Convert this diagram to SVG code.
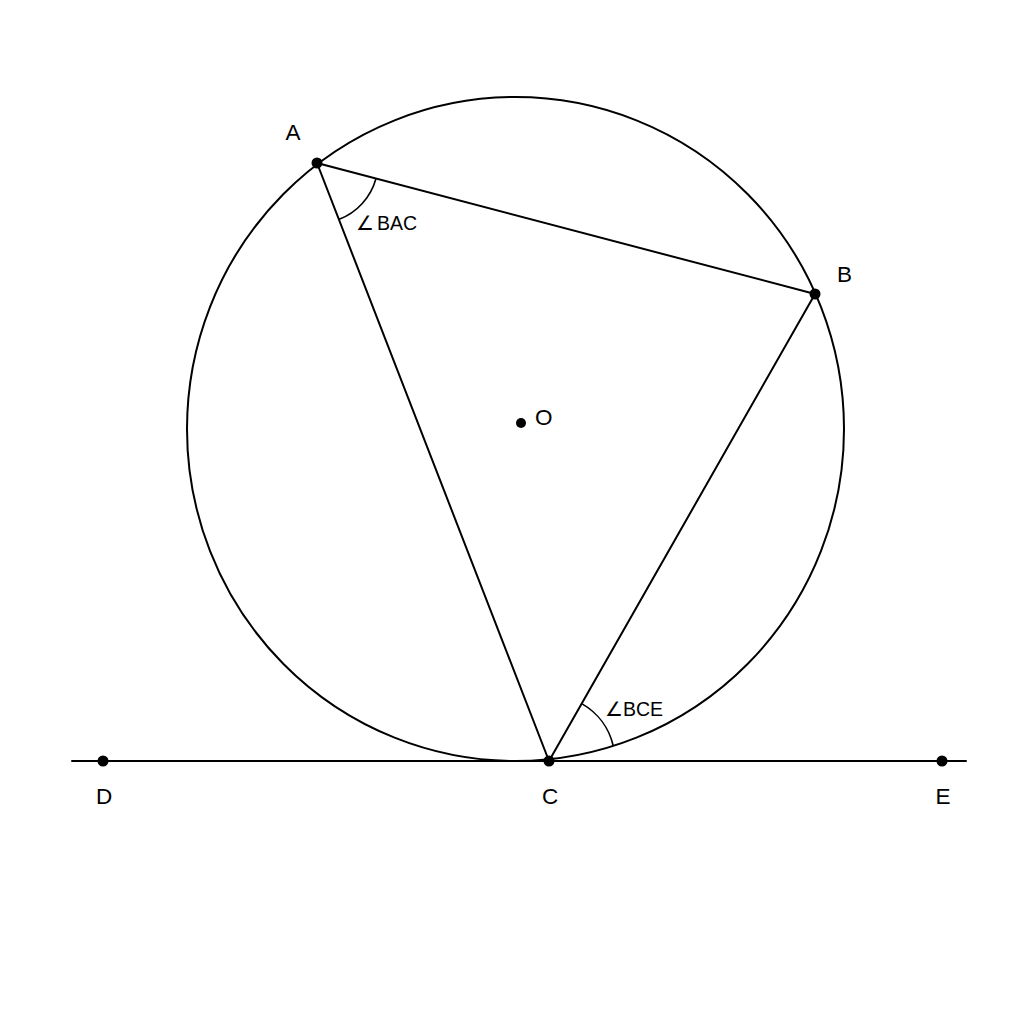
<svg xmlns="http://www.w3.org/2000/svg" width="1024" height="1024" viewBox="0 0 1024 1024">
<style>
.ln{fill:none;stroke:#000;stroke-width:2;stroke-linecap:round}
.thin{fill:none;stroke:#000;stroke-width:1.6}
.pt{fill:#000}
.lb{font-family:"Liberation Sans",Arial,sans-serif;font-size:22.5px;fill:#000}
.al{font-family:"Liberation Sans",Arial,sans-serif;font-size:19.5px;fill:#000}
</style>
<rect width="1024" height="1024" fill="#fff"/>
<g id="circle">
<ellipse cx="515.5" cy="429" rx="328.5" ry="332" class="ln"/>
</g>
<g id="connectors">
<line x1="72" y1="761" x2="966" y2="761" class="ln"/>
<line x1="317" y1="163" x2="815" y2="294" class="ln"/>
<line x1="317" y1="163" x2="549" y2="761" class="ln"/>
<line x1="815" y1="294" x2="549" y2="761" class="ln"/>
</g>
<g id="angle-BAC">
<path d="M376 178.5 A61 61 0 0 1 338.7 219.5" class="thin"/>
<text y="229.5" class="al"><tspan x="356">∠</tspan><tspan x="377">BAC</tspan></text>
</g>
<g id="angle-BCE">
<path d="M581.7 703.6 A66 66 0 0 1 613.3 746" class="thin"/>
<text y="715.5" class="al"><tspan x="605">∠</tspan><tspan x="623">BCE</tspan></text>
</g>
<g id="A"><circle cx="317" cy="163" r="5.5" class="pt"/><text x="293" y="139.5" class="lb" text-anchor="middle">A</text></g>
<g id="B"><circle cx="815" cy="294" r="5.5" class="pt"/><text x="844.5" y="281.5" class="lb" text-anchor="middle">B</text></g>
<g id="C"><circle cx="549" cy="761" r="5.5" class="pt"/><text x="550" y="803.5" class="lb" text-anchor="middle">C</text></g>
<g id="D"><circle cx="103" cy="761" r="5.5" class="pt"/><text x="104" y="803.5" class="lb" text-anchor="middle">D</text></g>
<g id="E"><circle cx="942" cy="761" r="5.5" class="pt"/><text x="943" y="803.5" class="lb" text-anchor="middle">E</text></g>
<g id="O"><circle cx="521" cy="423" r="5" class="pt"/><text x="535" y="424.5" class="lb">O</text></g>
</svg>
